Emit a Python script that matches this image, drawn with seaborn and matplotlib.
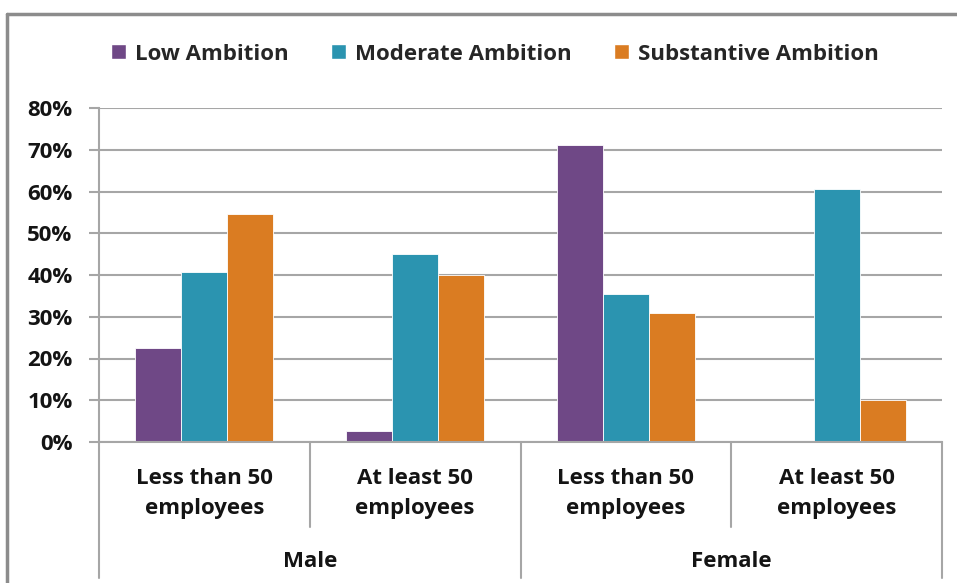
import pandas as pd
import numpy as np
import matplotlib
matplotlib.use("Agg")
import matplotlib.pyplot as plt
import matplotlib.transforms as mtransforms
from matplotlib.lines import Line2D
from matplotlib.patches import Patch
import seaborn as sns

# Chart data
genders = ["Male", "Female"]
sizes = ["Less than 50\nemployees", "At least 50\nemployees"]
levels = ["Low Ambition", "Moderate Ambition", "Substantive Ambition"]
low = [22.6, 2.6, 71.1, 0.0]
moderate = [40.7, 45.0, 35.4, 60.6]
substantive = [54.7, 40.1, 30.8, 10.0]
yticks = [0, 10, 20, 30, 40, 50, 60, 70, 80]

colors = ["#6F4886", "#2B94B0", "#DA7C22"]

# build long table
groups = [g + " | " + s for g in genders for s in sizes]
rows = []
for name, vals in zip(levels, [low, moderate, substantive]):
    for grp, v in zip(groups, vals):
        rows.append({"group": grp, "level": name, "value": v})
df = pd.DataFrame(rows)

sns.set_style("white")
plt.rcParams["font.family"] = ["Open Sans", "DejaVu Sans"]
plt.rcParams["font.weight"] = "bold"

fig = plt.figure(figsize=(9.57, 5.83), dpi=100)
W, H = 957, 583
ax = fig.add_axes([99 / W, (H - 442) / H, (942 - 99) / W, (442 - 108) / H])

sns.barplot(data=df, x="group", y="value", hue="level", order=groups,
            hue_order=levels, palette=colors, width=0.655, ax=ax,
            edgecolor="white", linewidth=0.6, legend=False, saturation=1)

fs = 16
txt_c = "#141414"
grid_c = "#a6a6a6"
ax.set_ylim(0, 80)
ax.set_xlim(-0.5, 3.5)
ax.set_yticks(yticks)
ax.set_yticklabels([f"{t}%" for t in yticks], fontsize=fs, fontweight="bold",
                   color=txt_c)
ax.yaxis.grid(True, color=grid_c, linewidth=1.5)
ax.set_axisbelow(True)
ax.tick_params(axis="y", left=True, length=7, width=1.5, color=grid_c, pad=12)
ax.tick_params(axis="x", bottom=False, labelbottom=False)
ax.set_xlabel("")
ax.set_ylabel("")
for side in ["top", "right"]:
    ax.spines[side].set_visible(False)
ax.spines["left"].set_color(grid_c)
ax.spines["left"].set_linewidth(1.5)
ax.spines["bottom"].set_color(grid_c)
ax.spines["bottom"].set_linewidth(1.5)

# multi-level category axis
trans = mtransforms.blended_transform_factory(ax.transData, ax.transAxes)
for i, grp in enumerate(groups):
    size_label = grp.split(" | ")[1]
    ax.text(i, -0.154, size_label, transform=trans, ha="center", va="center",
            fontsize=fs, fontweight="bold", color=txt_c, linespacing=1.6)
for j, g in enumerate(genders):
    ax.text(2 * j + 0.5, -0.357, g, transform=trans, ha="center", va="center",
            fontsize=fs, fontweight="bold", color=txt_c)
for xv in [0.5, 2.5]:
    ax.add_line(Line2D([xv, xv], [0, -0.254], transform=trans, color=grid_c,
                       linewidth=1.5, clip_on=False))
for xv in [-0.5, 1.5, 3.5]:
    ax.add_line(Line2D([xv, xv], [0, -0.407], transform=trans, color=grid_c,
                       linewidth=1.5, clip_on=False))

# legend
handles = [Patch(facecolor=c, edgecolor="white", label=l) for c, l in zip(colors, levels)]
fig.legend(handles=handles, loc="center", bbox_to_anchor=(495 / W, 1 - 54 / H),
           ncol=3, frameon=False, handlelength=0.68,
           handleheight=0.68, handletextpad=0.4, columnspacing=1.9,
           prop={"weight": "bold", "size": fs})

# outer chart border (partly cut off on the right and bottom)
border_c = "#8c8c8c"
fig.add_artist(Line2D([7 / W, 1], [1 - 14 / H, 1 - 14 / H], color=border_c, linewidth=2.5))
fig.add_artist(Line2D([7 / W, 7 / W], [0, 1 - 14 / H], color=border_c, linewidth=2.5))

fig.savefig("out.png", dpi=100)
